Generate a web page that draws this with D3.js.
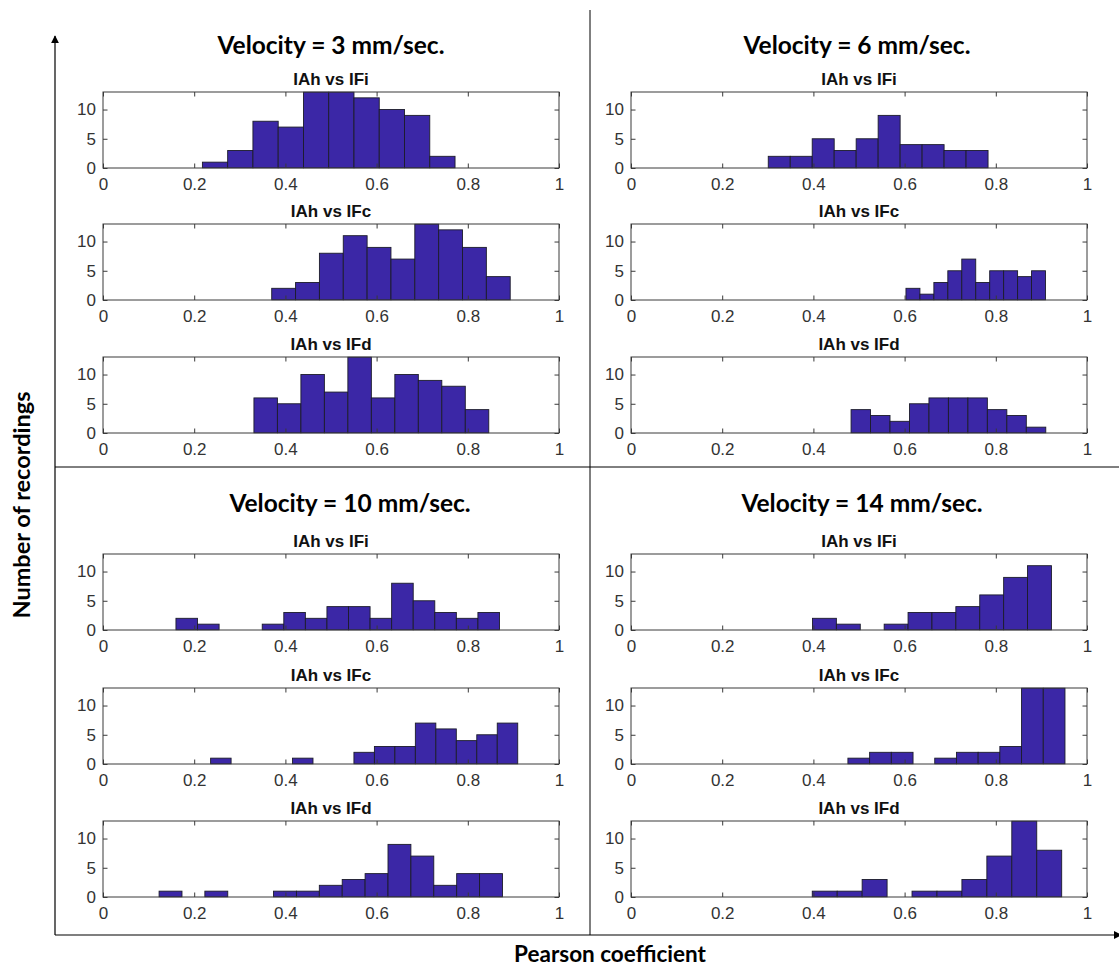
<!DOCTYPE html>
<html>
<head>
<meta charset="utf-8">
<script src="https://cdn.jsdelivr.net/npm/d3@7"></script>
<style>
  html, body { margin: 0; padding: 0; background: #fff; }
  svg { display: block; }
</style>
</head>
<body>
<svg id="fig" width="1119" height="969"></svg>
<script>
// Histograms of Pearson coefficients (IAh vs IFi / IFc / IFd) at four probe velocities.
const velocityTitles = ["Velocity = 3 mm/sec.", "Velocity = 6 mm/sec.", "Velocity = 10 mm/sec.", "Velocity = 14 mm/sec."];
const pairTitles = ["IAh vs IFi", "IAh vs IFc", "IAh vs IFd"];
const xTickValues = [0, 0.2, 0.4, 0.6, 0.8, 1];
const xTickLabels = ["0", "0.2", "0.4", "0.6", "0.8", "1"];
const yTickValues = [0, 5, 10];
const yMax = 13;

// Counts per bin, one row per pair (IFi, IFc, IFd)
const countsV3 = [
  [1, 3, 8, 7, 13, 13, 12, 10, 9, 2],
  [2, 3, 8, 11, 9, 7, 13, 12, 9, 4],
  [6, 5, 10, 7, 13, 6, 10, 9, 8, 4]
];
const countsV6 = [
  [2, 2, 5, 3, 5, 9, 4, 4, 3, 3],
  [2, 1, 3, 5, 7, 3, 5, 5, 4, 5],
  [4, 3, 2, 5, 6, 6, 6, 4, 3, 1]
];
const countsV10 = [
  [2, 1, 0, 0, 1, 3, 2, 4, 4, 2, 8, 5, 3, 2, 3],
  [1, 0, 0, 0, 1, 0, 0, 2, 3, 3, 7, 6, 4, 5, 7],
  [1, 0, 1, 0, 0, 1, 1, 2, 3, 4, 9, 7, 2, 4, 4]
];
const countsV14 = [
  [2, 1, 0, 1, 3, 3, 4, 6, 9, 11],
  [1, 2, 2, 0, 1, 2, 2, 3, 13, 13],
  [1, 1, 3, 0, 1, 1, 3, 7, 13, 8]
];

// Left edge of the first bin and bin width for each histogram
const binStartV3 = [0.218, 0.370, 0.331];
const binWidthV3 = [0.0554, 0.0523, 0.0515];
const binStartV6 = [0.301, 0.603, 0.4826];
const binWidthV6 = [0.0482, 0.0306, 0.0427];
const binStartV10 = [0.160, 0.236, 0.123];
const binWidthV10 = [0.0473, 0.0449, 0.0502];
const binStartV14 = [0.398, 0.4757, 0.3975];
const binWidthV14 = [0.0524, 0.0476, 0.0547];

const groups = [
  { counts: countsV3, start: binStartV3, width: binWidthV3 },
  { counts: countsV6, start: binStartV6, width: binWidthV6 },
  { counts: countsV10, start: binStartV10, width: binWidthV10 },
  { counts: countsV14, start: binStartV14, width: binWidthV14 }
];

// ---- layout ----
const svg = d3.select("#fig");
const colX = [103, 631];
const rowTops = [[92, 224, 357], [554, 688, 821]];
const boxW = 456, boxH = 76;
const titleCenters = [[331, 857], [350, 862]];
const titleBaselines = [54, 512];
const barColor = "#3b27a6";
const axisColor = "#3a3a3a";
const tickFont = "'Liberation Sans', Arial, Helvetica, sans-serif";
const headFont = "Lato, 'Open Sans', sans-serif";

const defs = svg.append("defs");
defs.append("marker")
  .attr("id", "arrowHead")
  .attr("viewBox", "0 0 10 10")
  .attr("refX", 9).attr("refY", 5)
  .attr("markerWidth", 8).attr("markerHeight", 8)
  .attr("markerUnits", "userSpaceOnUse")
  .attr("orient", "auto")
  .append("path").attr("d", "M0,0 L10,5 L0,10 Z").attr("fill", "#000");

// Outer frame: y arrow, x arrow, quadrant dividers
svg.append("line").attr("x1", 55).attr("y1", 935).attr("x2", 55).attr("y2", 36)
  .attr("stroke", "#000").attr("stroke-width", 1.2).attr("marker-end", "url(#arrowHead)");
svg.append("line").attr("x1", 55).attr("y1", 935).attr("x2", 1121).attr("y2", 935)
  .attr("stroke", "#000").attr("stroke-width", 1.2).attr("marker-end", "url(#arrowHead)");
svg.append("line").attr("x1", 590).attr("y1", 10).attr("x2", 590).attr("y2", 935)
  .attr("stroke", "#000").attr("stroke-width", 1);
svg.append("line").attr("x1", 55).attr("y1", 467).attr("x2", 1119).attr("y2", 467)
  .attr("stroke", "#000").attr("stroke-width", 1);

// Axis titles
svg.append("text")
  .attr("transform", "translate(30,505) rotate(-90)")
  .attr("text-anchor", "middle")
  .attr("font-family", headFont).attr("font-weight", "bold").attr("font-size", 23.5)
  .text("Number of recordings");
svg.append("text")
  .attr("x", 610).attr("y", 962)
  .attr("text-anchor", "middle")
  .attr("font-family", headFont).attr("font-weight", "bold").attr("font-size", 22.5)
  .text("Pearson coefficient");

let clipId = 0;
groups.forEach((g, gi) => {
  const half = Math.floor(gi / 2);   // 0 = top half, 1 = bottom half
  const col = gi % 2;
  svg.append("text")
    .attr("x", titleCenters[half][col]).attr("y", titleBaselines[half])
    .attr("text-anchor", "middle")
    .attr("font-family", headFont).attr("font-weight", "bold").attr("font-size", 24.5)
    .text(velocityTitles[gi]);

  g.counts.forEach((counts, pi) => {
    const x0 = colX[col], y0 = rowTops[half][pi];
    const x = d3.scaleLinear().domain([0, 1]).range([x0, x0 + boxW]);
    const y = d3.scaleLinear().domain([0, yMax]).range([y0 + boxH, y0]);
    const panel = svg.append("g");

    // subplot title
    panel.append("text")
      .attr("x", x0 + boxW / 2).attr("y", y0 - 7)
      .attr("text-anchor", "middle")
      .attr("font-family", tickFont).attr("font-weight", "bold").attr("font-size", 17)
      .attr("fill", "#111")
      .text(pairTitles[pi]);

    const cid = "clip" + (clipId++);
    defs.append("clipPath").attr("id", cid)
      .append("rect").attr("x", x0).attr("y", y0 - 0.5).attr("width", boxW).attr("height", boxH + 1);

    const bins = counts.map((c, i) => ({
      lo: g.start[pi] + i * g.width[pi],
      hi: g.start[pi] + (i + 1) * g.width[pi],
      c: c
    }));
    panel.append("g").attr("clip-path", `url(#${cid})`)
      .selectAll("rect").data(bins).join("rect")
      .attr("x", d => x(d.lo))
      .attr("width", d => x(d.hi) - x(d.lo))
      .attr("y", d => y(Math.min(d.c, yMax)))
      .attr("height", d => y(0) - y(Math.min(d.c, yMax)))
      .attr("fill", barColor)
      .attr("stroke", "#1c1c2a").attr("stroke-width", 0.9);

    // Axes: inward ticks on all four sides, box outline
    const tl = 4.5;
    const bottom = d3.axisBottom(x).tickValues(xTickValues).tickSizeInner(-tl).tickSizeOuter(0)
      .tickPadding(10).tickFormat((d, i) => xTickLabels[i]);
    const top = d3.axisTop(x).tickValues(xTickValues).tickSizeInner(-tl).tickSizeOuter(0).tickFormat("");
    const left = d3.axisLeft(y).tickValues(yTickValues).tickSizeInner(-tl).tickSizeOuter(0)
      .tickPadding(7).tickFormat(d3.format("d"));
    const right = d3.axisRight(y).tickValues(yTickValues).tickSizeInner(-tl).tickSizeOuter(0).tickFormat("");

    const axes = [
      panel.append("g").attr("transform", `translate(0,${y0 + boxH})`).call(bottom),
      panel.append("g").attr("transform", `translate(0,${y0})`).call(top),
      panel.append("g").attr("transform", `translate(${x0},0)`).call(left),
      panel.append("g").attr("transform", `translate(${x0 + boxW},0)`).call(right)
    ];
    axes.forEach(a => {
      a.select(".domain").remove();
      a.selectAll("line").attr("stroke", axisColor);
      a.selectAll("text").attr("font-family", tickFont).attr("font-size", 17).attr("fill", "#333");
    });
    panel.append("rect")
      .attr("x", x0).attr("y", y0).attr("width", boxW).attr("height", boxH)
      .attr("fill", "none").attr("stroke", axisColor).attr("stroke-width", 1);
  });
});
</script>
</body>
</html>
